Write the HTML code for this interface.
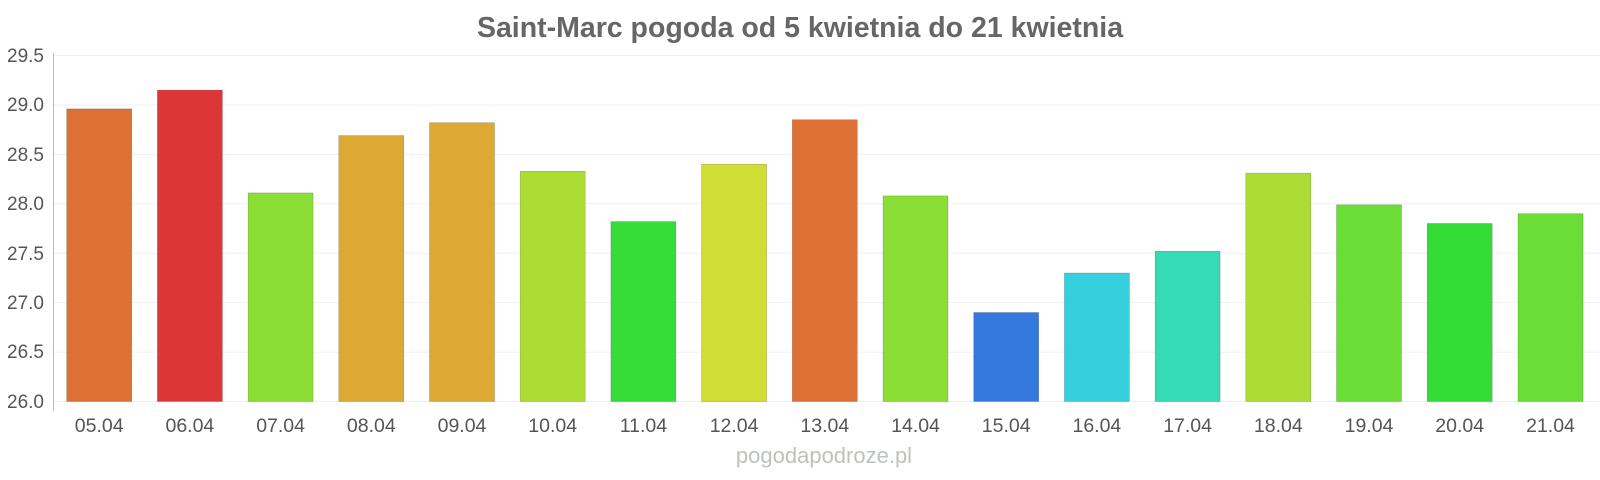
<!DOCTYPE html>
<html><head><meta charset="utf-8"><style>
html,body{margin:0;padding:0;background:#fff;}
svg{display:block;font-family:"Liberation Sans",Arial,sans-serif;}
</style></head><body>
<svg width="1600" height="480" viewBox="0 0 1600 480" xmlns="http://www.w3.org/2000/svg">
<text x="800" y="37" text-anchor="middle" font-size="28.5" font-weight="bold" fill="#666">Saint-Marc pogoda od 5 kwietnia do 21 kwietnia</text>
<g stroke="#f0f0f0" stroke-width="1">
<line x1="53" x2="1600" y1="55.5" y2="55.5"/>
<line x1="53" x2="1600" y1="104.9" y2="104.9"/>
<line x1="53" x2="1600" y1="154.4" y2="154.4"/>
<line x1="53" x2="1600" y1="203.8" y2="203.8"/>
<line x1="53" x2="1600" y1="253.2" y2="253.2"/>
<line x1="53" x2="1600" y1="302.6" y2="302.6"/>
<line x1="53" x2="1600" y1="352.1" y2="352.1"/>
<line x1="53" x2="1600" y1="401.5" y2="401.5"/>
</g>
<line x1="53.5" x2="53.5" y1="53" y2="411" stroke="#bbb"/>
<g font-size="19" fill="#555" text-anchor="end">
<text x="44" y="62">29.5</text>
<text x="44" y="111">29.0</text>
<text x="44" y="161">28.5</text>
<text x="44" y="210">28.0</text>
<text x="44" y="260">27.5</text>
<text x="44" y="309">27.0</text>
<text x="44" y="358">26.5</text>
<text x="44" y="408">26.0</text>
</g>
<g stroke-opacity="0.3" stroke="#000" stroke-width="0.5">
<rect x="66.7" y="108.9" width="65" height="292.6" fill="#de7035"/>
<rect x="157.4" y="90.1" width="65" height="311.4" fill="#dc3636"/>
<rect x="248.1" y="192.9" width="65" height="208.6" fill="#8ade36"/>
<rect x="338.8" y="135.6" width="65" height="265.9" fill="#dca935"/>
<rect x="429.5" y="122.7" width="65" height="278.8" fill="#dca935"/>
<rect x="520.2" y="171.2" width="65" height="230.3" fill="#addd35"/>
<rect x="610.9" y="221.6" width="65" height="179.9" fill="#36dd3a"/>
<rect x="701.6" y="164.2" width="65" height="237.3" fill="#cfdd35"/>
<rect x="792.3" y="119.7" width="65" height="281.8" fill="#de7035"/>
<rect x="883.0" y="195.9" width="65" height="205.6" fill="#8ade36"/>
<rect x="973.7" y="312.5" width="65" height="89" fill="#3578dd"/>
<rect x="1064.4" y="273" width="65" height="128.5" fill="#36cfdd"/>
<rect x="1155.1" y="251.2" width="65" height="150.3" fill="#36dbb5"/>
<rect x="1245.8" y="173.1" width="65" height="228.4" fill="#addd35"/>
<rect x="1336.5" y="204.8" width="65" height="196.7" fill="#6ade36"/>
<rect x="1427.2" y="223.5" width="65" height="178" fill="#33dd36"/>
<rect x="1518" y="213.7" width="65" height="187.8" fill="#6ade36"/>
</g>
<g font-size="19.5" fill="#555" text-anchor="middle">
<text x="99.2" y="432">05.04</text>
<text x="189.9" y="432">06.04</text>
<text x="280.6" y="432">07.04</text>
<text x="371.3" y="432">08.04</text>
<text x="462" y="432">09.04</text>
<text x="552.7" y="432">10.04</text>
<text x="643.4" y="432">11.04</text>
<text x="734.1" y="432">12.04</text>
<text x="824.8" y="432">13.04</text>
<text x="915.5" y="432">14.04</text>
<text x="1006.2" y="432">15.04</text>
<text x="1096.9" y="432">16.04</text>
<text x="1187.6" y="432">17.04</text>
<text x="1278.3" y="432">18.04</text>
<text x="1369" y="432">19.04</text>
<text x="1459.7" y="432">20.04</text>
<text x="1550.5" y="432">21.04</text>
</g>
<text x="824" y="463" text-anchor="middle" font-size="22" fill="#bcc2bc">pogodapodroze.pl</text>
</svg>
</body></html>
